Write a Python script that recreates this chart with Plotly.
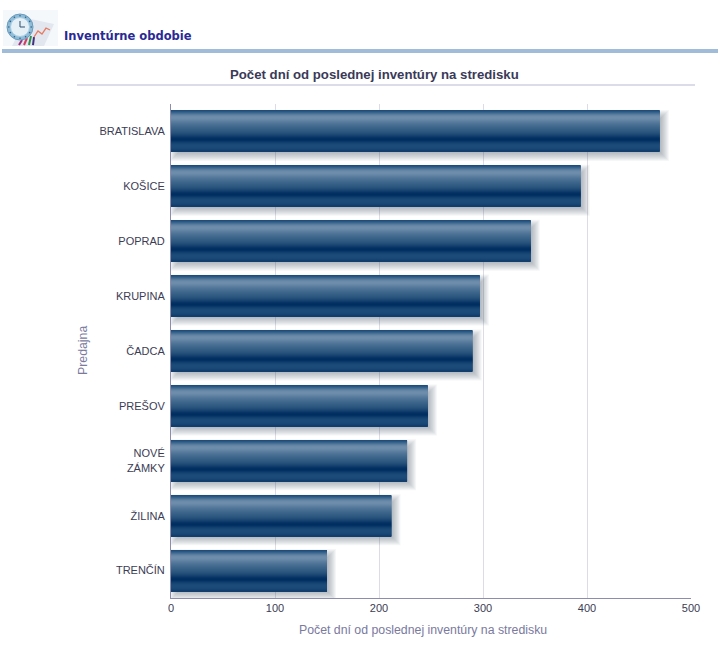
import math
import plotly.graph_objects as go

# hodnoty odčítané z grafu
predajne = ['BRATISLAVA', 'KOŠICE', 'POPRAD', 'KRUPINA', 'ČADCA', 'PREŠOV', 'NOVÉ<br>ZÁMKY', 'ŽILINA', 'TRENČÍN']
dni = [470, 394, 346, 297, 290, 247, 227, 212, 150]
x_ticks = [0, 100, 200, 300, 400, 500]

nadpis = 'Inventúrne obdobie'
titul_grafu = 'Počet dní od poslednej inventúry na stredisku'
os_x = 'Počet dní od poslednej inventúry na stredisku'
os_y = 'Predajna'

# farby pruhu zhora nadol, po jednom pixeli
prechod = [
    '#1f4d7b', '#2a5682', '#38638c', '#487095', '#587c9e', '#6585a5', '#6c8aa9', '#6e8cab',
    '#6d8baa', '#6888a7', '#6283a3', '#5b7e9f', '#55799b', '#4f7497', '#4a7094', '#456c91',
    '#41698e', '#3d658b', '#396288', '#355e85', '#315b82', '#2d577f', '#28537c', '#234e78',
    '#1d4874', '#16426f', '#0e3b6a', '#073465', '#023062', '#002e61', '#033163', '#0a3869',
    '#113f6e', '#174573', '#1b4977', '#1d4b79', '#1d4b79', '#1c4a78', '#1a4876', '#164372', '#113e6c',
]

W, H = 718, 648
L, R, T, B = 171, 691, 104, 598
px_na_den = (R - L) / 500
px_na_kat = (B - T) / len(predajne)


def xp(x):
    return (x - L) / (R - L)


def yp(y):
    return (B - y) / (B - T)


def rect(x0, y0, x1, y1, farba):
    return dict(type='rect', xref='paper', yref='paper', x0=xp(x0), x1=xp(x1), y0=yp(y0), y1=yp(y1),
                fillcolor=farba, line_width=0, layer='above')


def path(body, fill=None, line=None, sirka=1):
    d = 'M ' + ' L '.join(f'{xp(x):.4f},{yp(y):.4f}' for x, y in body)
    if fill:
        d += ' Z'
    return dict(type='path', xref='paper', yref='paper', path=d, fillcolor=fill,
                line=dict(color=line, width=sirka if line else 0), layer='above')


def kruh(cx, cy, r, fill, line=None):
    return dict(type='circle', xref='paper', yref='paper', x0=xp(cx - r), x1=xp(cx + r),
                y0=yp(cy + r), y1=yp(cy - r), fillcolor=fill,
                line=dict(color=line, width=1 if line else 0), layer='above')


fig = go.Figure()

# rozmazany tien pod pruhmi
for e in [5, 4, 3, 2, 1, 0, -1, -2, -3]:
    fig.add_trace(go.Bar(
        y=predajne, x=[d + 2 * e / px_na_den for d in dni], base=(4 - e) / px_na_den,
        orientation='h', width=(41 + 2 * e) / px_na_kat, offset=(-20.5 + 4 - e) / px_na_kat,
        marker=dict(color='rgba(80,90,110,0.055)', line_width=0), hoverinfo='skip',
    ))

# gradient pruhu poskladany z tenkych pasikov
for i, farba in enumerate(prechod):
    fig.add_trace(go.Bar(
        y=predajne, x=dni, orientation='h',
        width=1 / px_na_kat, offset=(-20.5 + i) / px_na_kat,
        marker=dict(color=farba, line_width=0), hoverinfo='skip',
    ))

shapes = [
    rect(2, 49, W, 53, '#a0bcd8'),
    rect(77, 84, 695, 86, '#dcdce8'),
    # ikona v hlavicke
    rect(3, 10, 58, 46, '#f5f8fb'),
    path([(12, 46), (44, 46), (54, 24), (26, 18)], fill='#e2e6ee'),
    path([(34, 37), (38, 31), (42, 34), (46, 28), (50, 30)], line='#e87a60', sirka=1.3),
    path([(19, 45), (22, 40)], line='#a03080', sirka=2),
    path([(24, 45), (27, 38)], line='#d04060', sirka=2),
    path([(29, 45), (31, 36)], line='#309050', sirka=2),
    path([(33, 45), (34, 37)], line='#403080', sirka=2),
    kruh(20, 27, 13, '#8fbcd8', '#6a9cbc'),
    kruh(20, 27, 9.5, '#e4f0f6', '#a8cce0'),
    path([(20, 21), (20, 27), (25, 27)], line='#305070', sirka=1),
]
# bodky na ciferniku
for k in range(12):
    uhol = k * math.pi / 6
    shapes.append(kruh(20 + 11.2 * math.cos(uhol), 27 + 11.2 * math.sin(uhol), 0.8, '#2f6488'))

annotations = [
    dict(text=nadpis, x=xp(62), y=yp(36.5), xanchor='left', yanchor='middle',
         font=dict(family='DejaVu Sans', size=11.5, color='#2a2a96', weight='bold')),
    dict(text=titul_grafu, x=xp(374.5), y=yp(74), xanchor='center', yanchor='middle',
         font=dict(family='Liberation Sans', size=13.2, color='#3a3a58', weight='bold')),
    dict(text=os_x, x=xp(423), y=yp(630), xanchor='center', yanchor='middle',
         font=dict(family='Liberation Sans', size=12.3, color='#7a7a9e')),
    dict(text=os_y, x=xp(83), y=yp(351), xanchor='center', yanchor='middle', textangle=-90,
         font=dict(family='Liberation Sans', size=12.3, color='#7a7a9e')),
]
for a in annotations:
    a.update(xref='paper', yref='paper', showarrow=False)

fig.update_layout(
    width=W, height=H,
    margin=dict(l=L, r=W - R, t=T, b=H - B, pad=0),
    barmode='overlay', showlegend=False,
    plot_bgcolor='white', paper_bgcolor='white',
    font=dict(family='Liberation Sans', size=11, color='#3c3c54'),
    shapes=shapes, annotations=annotations,
    xaxis=dict(range=[0, 500], tickvals=x_ticks, showgrid=True, gridcolor='#dcdce2', gridwidth=1,
               zeroline=False, showline=True, linecolor='#8c8cac', linewidth=1, ticks='', fixedrange=True),
    yaxis=dict(autorange=False, range=[len(predajne) - 0.5, -0.5], type='category',
               showgrid=False, showline=True, linecolor='#8c8cac', linewidth=1, ticks='',
               ticklabelstandoff=3, fixedrange=True),
)

fig.write_html('out.html', config=dict(displayModeBar=False),
               post_script="document.body.style.margin='0';document.body.style.overflow='hidden';")
